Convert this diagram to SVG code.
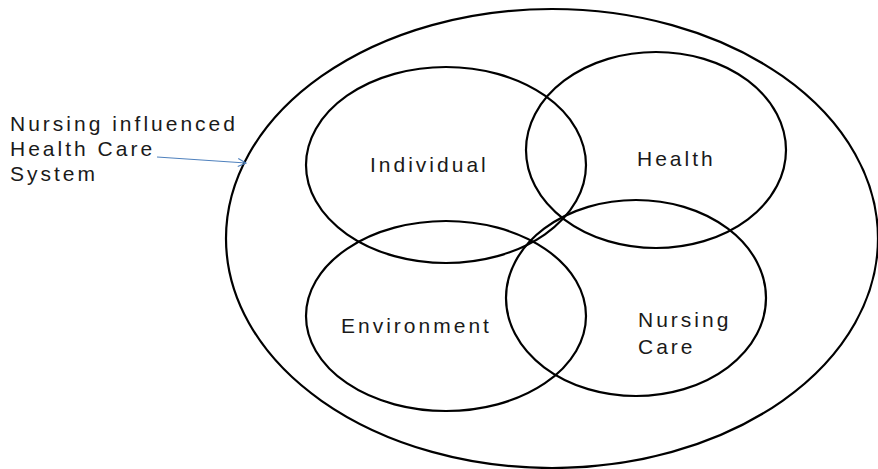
<svg xmlns="http://www.w3.org/2000/svg" width="878" height="469" viewBox="0 0 878 469">
<style>
.c{fill:none;stroke:#000;stroke-width:2.2}
.t{font-family:"Liberation Sans","Open Sans",sans-serif;font-size:21px;letter-spacing:3px;fill:#1a1a1a}
</style>
<defs>
<marker id="ah" markerWidth="10" markerHeight="10" refX="9" refY="5" orient="auto" markerUnits="userSpaceOnUse">
<path d="M1,1 L9,5 L1,9" fill="none" stroke="#4f81bd" stroke-width="1.2"/>
</marker>
</defs>
<rect width="878" height="469" fill="#fff"/>
<g id="system">
<ellipse class="c" cx="552" cy="238.5" rx="326" ry="229.5"/>
</g>
<g id="individual">
<ellipse class="c" cx="446" cy="165" rx="140" ry="98"/>
<text class="t" x="370" y="172">Individual</text>
</g>
<g id="health">
<ellipse class="c" cx="656" cy="150" rx="130" ry="98"/>
<text class="t" x="637" y="166">Health</text>
</g>
<g id="environment">
<ellipse class="c" cx="446" cy="316" rx="140" ry="95"/>
<text class="t" x="341" y="333">Environment</text>
</g>
<g id="nursing-care">
<ellipse class="c" cx="636" cy="298" rx="130" ry="98"/>
<text class="t" x="638" y="327">Nursing</text>
<text class="t" x="638" y="354">Care</text>
</g>
<g id="label">
<text class="t" x="10" y="131">Nursing influenced</text>
<text class="t" x="10" y="156">Health Care</text>
<text class="t" x="10" y="181">System</text>
</g>
<g id="connectors">
<line x1="157" y1="157" x2="246" y2="163" stroke="#4f81bd" stroke-width="1.2" marker-end="url(#ah)"/>
</g>
</svg>
